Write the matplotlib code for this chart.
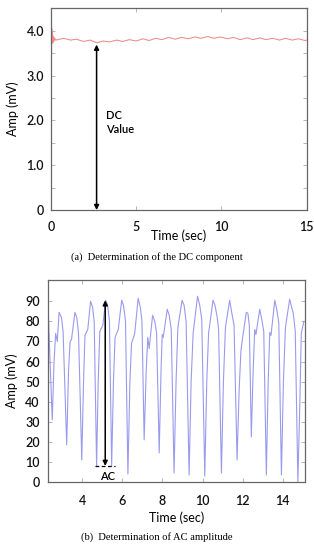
import matplotlib
matplotlib.use('Agg')
from matplotlib import pyplot as plt

# (a) DC component, red trace
dc_t = [0, 0.02, 0.05, 0.08, 0.11, 0.14, 0.18, 0.22, 0.28, 0.4, 0.75, 1.15, 1.5, 1.9, 2.3,
        2.7, 3.05, 3.45, 3.85, 4.2, 4.6, 5.0, 5.4, 5.75, 6.15, 6.5, 6.9, 7.3, 7.65, 8.05,
        8.45, 8.8, 9.2, 9.55, 9.95, 10.35, 10.7, 11.1, 11.5, 11.85, 12.25, 12.6, 13.0,
        13.4, 13.75, 14.15, 14.5, 14.9, 15.0]
dc_v = [0.0, 2.6, 4.05, 3.95, 3.72, 3.88, 3.76, 3.84, 3.79, 3.80, 3.83, 3.79, 3.81, 3.76, 3.79,
        3.73, 3.77, 3.75, 3.79, 3.76, 3.80, 3.77, 3.82, 3.78, 3.83, 3.80, 3.85, 3.81, 3.85, 3.82,
        3.86, 3.83, 3.87, 3.83, 3.86, 3.82, 3.85, 3.80, 3.84, 3.80, 3.84, 3.80, 3.83,
        3.79, 3.83, 3.79, 3.82, 3.78, 3.79]

# (b) AC amplitude, blue trace
ac_t = [2.30, 2.40, 2.51, 2.60, 2.68, 2.76, 2.85, 2.97, 3.05,
        3.23, 3.32, 3.40, 3.47, 3.64, 3.73, 3.82,
        3.98, 4.07, 4.14, 4.28, 4.42, 4.52, 4.60,
        4.72, 4.80, 4.88, 5.03, 5.17, 5.27, 5.36,
        5.47, 5.56, 5.64, 5.80, 5.97, 6.06, 6.16,
        6.28, 6.38, 6.46, 6.62, 6.79, 6.90, 6.98,
        7.09, 7.19, 7.27, 7.34, 7.51, 7.62, 7.71,
        7.84, 7.93, 7.99, 8.04, 8.24, 8.34, 8.44,
        8.58, 8.68, 8.77, 8.98, 9.08, 9.18,
        9.33, 9.43, 9.53, 9.75, 9.86, 9.96,
        10.11, 10.21, 10.30, 10.52, 10.62, 10.73, 10.80,
        10.94, 11.04, 11.14, 11.35, 11.46, 11.57,
        11.72, 11.82, 11.91, 11.97, 12.18, 12.26, 12.33,
        12.43, 12.52, 12.60, 12.66, 12.85, 12.95, 13.05,
        13.18, 13.27, 13.35, 13.41, 13.60, 13.70, 13.80,
        13.93, 14.03, 14.13, 14.34, 14.44, 14.52, 14.62,
        14.75, 14.85, 14.92, 15.05]
ac_v = [88, 60, 31, 60, 74, 70, 84.5, 82, 75,
        18.5, 55, 70, 71, 84.5, 82, 74,
        11, 50, 73, 76, 90, 87, 80,
        8, 50, 75, 78, 90.5, 88, 80,
        8, 50, 72, 76, 90.5, 88, 80,
        4, 50, 69, 74, 91.5, 87, 80,
        21, 55, 72, 66.5, 83, 80, 74,
        14.5, 55, 73.5, 72, 86, 83, 76,
        4.5, 50, 77, 90.5, 88, 80,
        3.5, 50, 74, 92.5, 88, 81,
        3, 50, 74, 90.5, 88, 82, 76,
        4.5, 50, 77, 90.5, 84, 78,
        11, 45, 65, 70, 84.5, 84, 78,
        22.5, 55, 76, 73.5, 86, 81, 75,
        3.5, 50, 74.5, 73, 90.5, 86, 79,
        3.5, 50, 77, 91, 87, 84, 75,
        0, 40, 74, 80]

dc_xticks = [0, 5, 10, 15]
dc_yticks = [0, 1, 2, 3, 4]
dc_yticklabels = ['0', '1.0', '2.0', '3.0', '4.0']
ac_xticks = [4, 6, 8, 10, 12, 14]
ac_yticks = [0, 10, 20, 30, 40, 50, 60, 70, 80, 90]

plt.rcParams['font.family'] = ['Lato', 'DejaVu Sans']
plt.rcParams['font.weight'] = 'semibold'
spine_col = '#666666'


def style_ax(ax, xpad, ypad, xlabelpad):
    for s in ax.spines.values():
        s.set_color(spine_col)
        s.set_linewidth(0.9)
    ax.tick_params(direction='in', top=True, right=True, length=3, width=0.6,
                   color='#aaaaaa', labelsize=9, labelcolor='#111111')
    ax.tick_params(axis='x', pad=xpad)
    ax.tick_params(axis='y', pad=ypad)
    ax.set_xlabel('Time (sec)', fontsize=9, labelpad=xlabelpad)
    ax.set_ylabel('Amp (mV)', fontsize=9, labelpad=5)


fig = plt.figure(figsize=(3.14, 5.5), dpi=100)

# top panel
ax1 = fig.add_axes([0.162, 0.618, 0.815, 0.367])
ax1.plot(dc_t, dc_v, color='#f08a8a', lw=0.75)
ax1.set_xlim(0, 15)
ax1.set_ylim(0, 4.5)
ax1.set_xticks(dc_xticks)
ax1.set_yticks(dc_yticks)
ax1.set_yticklabels(dc_yticklabels)
ax1.set_yticks([0.5, 1.5, 2.5, 3.5], minor=True)
ax1.tick_params(which='minor', direction='in', right=True, length=3, width=0.6, color='#aaaaaa')
style_ax(ax1, 8, 5, -2.5)
ax1.annotate('', xy=(2.68, 0.0), xytext=(2.68, 3.69),
             arrowprops=dict(arrowstyle='<|-|>', color='black', lw=1.1,
                             mutation_scale=7, shrinkA=0, shrinkB=0))
ax1.text(3.25, 1.95, 'DC\nValue', fontsize=8, ha='left', va='center', linespacing=1.4)
fig.text(0.5, 1 - 257 / 550, '(a)  Determination of the DC component',
         family='Liberation Serif', weight='normal', fontsize=7.6, ha='center', va='center')

# bottom panel
ax2 = fig.add_axes([0.153, 0.1236, 0.818, 0.367])
ax2.plot(ac_t, ac_v, color='#9a9aee', lw=0.8)
ax2.set_xlim(2.3, 15.1)
ax2.set_ylim(0, 100.5)
ax2.set_xticks(ac_xticks)
ax2.set_yticks(ac_yticks)
style_ax(ax2, 9, 6, 3.5)
ax2.plot([4.65, 5.62], [8, 8], color='black', lw=0.9, ls=(0, (3, 2)))
ax2.annotate('', xy=(5.15, 90.5), xytext=(5.15, 8),
             arrowprops=dict(arrowstyle='<|-|>', color='black', lw=1.1,
                             mutation_scale=7, shrinkA=0, shrinkB=0))
ax2.text(5.26, 2.5, 'AC', fontsize=8, ha='center', va='center')
fig.text(0.5, 1 - 537 / 550, '(b)  Determination of AC amplitude',
         family='Liberation Serif', weight='normal', fontsize=7.6, ha='center', va='center')

fig.savefig('out.png', dpi=100)
